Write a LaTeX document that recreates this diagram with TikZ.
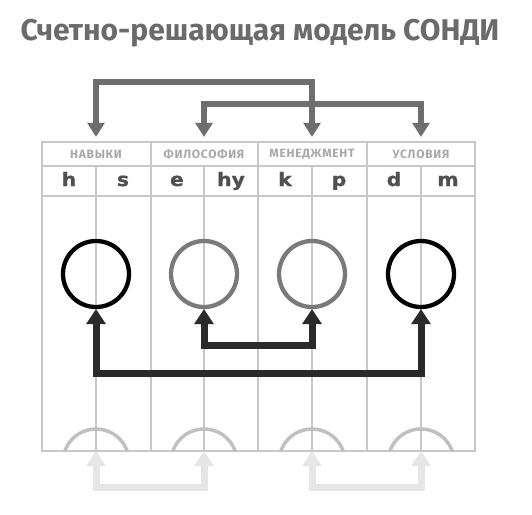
\documentclass[tikz,border=0pt]{standalone}
\usepackage{fontspec}
\setmainfont{Fira Sans}
\newfontfamily\headfont{Fira Sans}[LetterSpace=6]
\newfontfamily\letterfont{DejaVu Sans}[FakeStretch=1.1, BoldFeatures={FakeBold=1.2}]
\usetikzlibrary{arrows.meta}

\definecolor{titlegray}{HTML}{6B6B6B}
\definecolor{gridgray}{HTML}{C8C8C8}
\definecolor{headgray}{HTML}{A8A8A8}
\definecolor{lettergray}{HTML}{505050}
\definecolor{topgray}{HTML}{6E6E6E}
\definecolor{darkarrow}{HTML}{2A2A2A}
\definecolor{midgray}{HTML}{7A7A7A}
\definecolor{arcgray}{HTML}{C0C0C0}
\definecolor{ghostgray}{HTML}{E6E6E6}

\tikzset{
    grid/.style={draw=gridgray, line width=1.1pt},
    head/.style={text=headgray, font={\fontsize{12}{14}\headfont\bfseries}, minimum height=24pt, inner sep=0pt},
    letter/.style={text=lettergray, font={\fontsize{18.5}{21}\letterfont\bfseries}, inner sep=0pt, text height=14pt, text depth=4pt},
    ring/.style={circle, draw, line width=4.3pt, minimum size=66pt, inner sep=0pt},
    toparrow/.style={draw=topgray, line width=6pt, shorten <=5pt, shorten >=5pt,
        arrows={Triangle[width=18pt,length=14pt,line width=0pt]-Triangle[width=18pt,length=14pt,line width=0pt]}},
    fatarrow/.style={draw=darkarrow, line width=7pt,
        arrows={Triangle[width=20pt,length=15pt,line width=0pt]-Triangle[width=20pt,length=15pt,line width=0pt]}},
    ghostarrow/.style={draw=ghostgray, line width=7pt,
        arrows={Triangle[width=20pt,length=15pt,line width=0pt]-Triangle[width=20pt,length=15pt,line width=0pt]}}
}

\begin{document}
\begin{tikzpicture}[x=1pt,y=-1pt]
    \useasboundingbox (0,0) rectangle (532,514);
    \node [text=titlegray, font=\fontsize{30}{34}\selectfont\bfseries] (title) at (260,33) {Счетно-решающая модель СОНДИ};

    % table
    \draw [grid] (42,142) rectangle (475,451);
    \draw [grid] (42,166) -- (475,166) (42,196) -- (475,196);
    \draw [grid] (151,142) -- (151,451) (258,142) -- (258,451) (367,142) -- (367,451);
    \draw [grid] (96,166) -- (96,451) (204,166) -- (204,451) (312,166) -- (312,451) (421,166) -- (421,451);

    \node [head] (nav) at (96,154) {НАВЫКИ};
    \node [head] (fil) at (204,154) {ФИЛОСОФИЯ};
    \node [head] (men) at (312,154) {МЕНЕДЖМЕНТ};
    \node [head] (usl) at (421,154) {УСЛОВИЯ};

    \node [letter] (lh) at (69,181) {h};
    \node [letter] (ls) at (123,181) {s};
    \node [letter] (le) at (177,181) {e};
    \node [letter] (lhy) at (231,181) {hy};
    \node [letter] (lk) at (285,181) {k};
    \node [letter] (lp) at (339,181) {p};
    \node [letter] (ld) at (394,181) {d};
    \node [letter] (lm) at (448,181) {m};

    % circles
    \node [ring, draw=black] (cnav) at (96,274) {};
    \node [ring, draw=midgray] (cfil) at (204,274) {};
    \node [ring, draw=midgray] (cmen) at (312,274) {};
    \node [ring, draw=black] (cusl) at (421,274) {};

    % half circles at the bottom
    \begin{scope}
        \clip (42,142) rectangle (475,451);
        \draw [arcgray, line width=3.5pt] (96,462) circle (33pt);
        \draw [arcgray, line width=3.5pt] (204,462) circle (33pt);
        \draw [arcgray, line width=3.5pt] (312,462) circle (33pt);
        \draw [arcgray, line width=3.5pt] (421,462) circle (33pt);
    \end{scope}
    \coordinate (bnav) at (96,451);
    \coordinate (bfil) at (204,451);
    \coordinate (bmen) at (312,451);
    \coordinate (busl) at (421,451);

    % arrows
    \draw [toparrow] (fil) -- ++(0,-50) -| (usl);
    \draw [toparrow] (nav) -- ++(0,-72) -| (men);
    \draw [fatarrow] (cfil) -- ++(0,71) -| (cmen);
    \draw [fatarrow] (cnav) -- ++(0,99) -| (cusl);
    \draw [ghostarrow] (bnav) -- ++(0,36) -| (bfil);
    \draw [ghostarrow] (bmen) -- ++(0,36) -| (busl);
\end{tikzpicture}
\end{document}
